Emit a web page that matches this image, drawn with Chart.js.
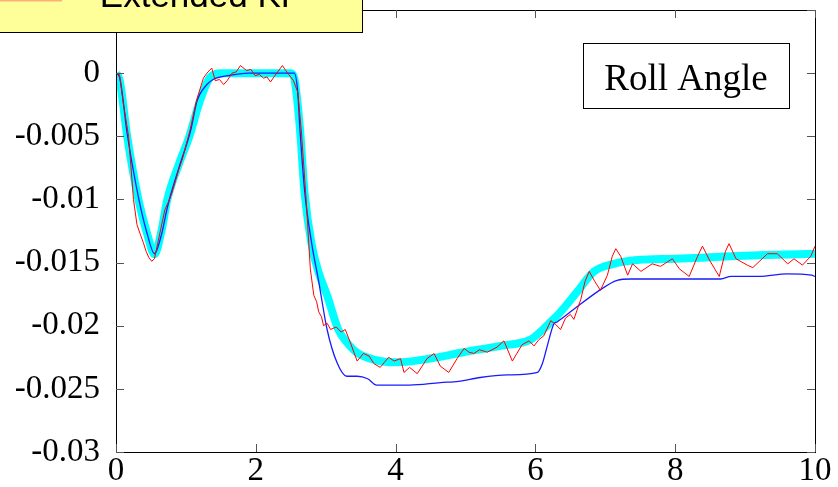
<!DOCTYPE html>
<html lang="en">
<head>
<meta charset="UTF-8" />
<title>Roll Angle</title>
<script src="https://cdn.jsdelivr.net/npm/chart.js@4.4.0/dist/chart.umd.min.js"></script>
<style>
  html, body { margin: 0; padding: 0; background: #fff; }
  #wrap { width: 838px; height: 487px; position: relative; }
</style>
</head>
<body>
<div id="wrap"><canvas id="rollChart"></canvas></div>
<script>
// x tick labels and y tick labels
var xTickLabels = ['0', '2', '4', '6', '8', '10'];
var yTickLabels = ['-0.03', '-0.025', '-0.02', '-0.015', '-0.01', '-0.005', '0'];

// true roll angle (thick cyan)
var trueT = [0, 0.05, 0.16, 0.32, 0.45, 0.55, 0.65, 0.735, 0.9, 1.05, 1.2, 1.35, 1.5, 2.5, 2.55, 2.63, 2.70, 2.80, 2.9, 3.02, 3.18, 3.3, 3.44, 3.7, 4.02, 4.5, 4.97, 5.5, 5.93, 6.07, 6.2, 6.36, 6.6, 6.84, 7.12, 7.46, 8.0, 8.65, 9.3, 10];
var trueV = [0, -0.0005, -0.005, -0.01, -0.0128, -0.01435, -0.0125, -0.01, -0.0072, -0.005, -0.0022, -0.0003, 0, 0, -0.0004, -0.0043, -0.0096, -0.0136, -0.0158, -0.0176, -0.0203, -0.0213, -0.0221, -0.0227, -0.0229, -0.0226, -0.0221, -0.0216, -0.0211, -0.0205, -0.0198, -0.0189, -0.0173, -0.0157, -0.0151, -0.0148, -0.0147, -0.01454, -0.0144, -0.0143];

// second estimate (thin blue)
var blueT = [0, 0.05, 0.16, 0.32, 0.45, 0.55, 0.65, 0.74, 0.9, 1.07, 1.16, 1.3, 1.39, 1.6, 1.9, 2.55, 2.6, 2.63, 2.70, 2.80, 2.9, 3.02, 3.16, 3.3, 3.45, 3.6, 3.73, 4.2, 4.64, 4.9, 5.21, 5.6, 6.03, 6.1, 6.17, 6.26, 6.31, 6.55, 6.89, 7.17, 7.36, 8.0, 8.65, 8.8, 9.2, 9.6, 9.95, 10];
var blueV = [0, -0.0003, -0.0048, -0.0098, -0.0128, -0.0143, -0.0128, -0.0105, -0.0075, -0.0045, -0.0022, -0.0009, -0.0005, -0.0002, 0, 0, -0.0015, -0.0043, -0.0094, -0.0135, -0.0165, -0.0203, -0.0229, -0.0240, -0.0240, -0.0242, -0.0247, -0.0247, -0.0245, -0.0244, -0.0241, -0.0239, -0.0237, -0.0230, -0.0216, -0.0199, -0.0197, -0.0187, -0.0173, -0.0164, -0.0163, -0.0163, -0.0163, -0.0161, -0.0161, -0.0159, -0.0160, -0.0161];

// Extended KF estimate (thin red, noisy)
var ekfT = [0, 0.05, 0.1, 0.18, 0.25, 0.3, 0.35, 0.39, 0.43, 0.47, 0.51, 0.55, 0.6, 0.7, 0.75, 0.8, 0.9, 0.95, 1.06, 1.15, 1.25, 1.3, 1.37, 1.42, 1.48, 1.54, 1.59, 1.66, 1.72, 1.78, 1.87, 1.93, 1.99, 2.05, 2.11, 2.16, 2.21, 2.26, 2.30, 2.38, 2.43, 2.47, 2.54, 2.6, 2.65, 2.72, 2.78, 2.83, 2.87, 2.9, 2.94, 2.97, 3.02, 3.07, 3.15, 3.22, 3.28, 3.35, 3.45, 3.54, 3.62, 3.69, 3.78, 3.84, 3.90, 3.98, 4.07, 4.12, 4.2, 4.31, 4.38, 4.45, 4.55, 4.64, 4.76, 4.88, 4.98, 5.05, 5.12, 5.2, 5.31, 5.38, 5.45, 5.55, 5.67, 5.81, 5.91, 5.98, 6.05, 6.12, 6.22, 6.29, 6.36, 6.43, 6.5, 6.55, 6.65, 6.71, 6.77, 6.85, 6.93, 7.03, 7.1, 7.15, 7.22, 7.32, 7.39, 7.51, 7.67, 7.79, 7.96, 8.06, 8.2, 8.32, 8.39, 8.49, 8.63, 8.72, 8.77, 8.87, 9.03, 9.11, 9.32, 9.46, 9.61, 9.70, 9.82, 9.94, 10];
var ekfV = [0, -0.0001, -0.0022, -0.005, -0.01, -0.012, -0.0128, -0.0134, -0.0141, -0.0146, -0.0149, -0.0147, -0.0134, -0.0108, -0.0102, -0.0095, -0.0076, -0.0068, -0.0045, -0.0022, -0.0004, 0, 0.0004, -0.0006, -0.0005, -0.0009, -0.0006, 0, 0.0001, 0.0006, 0.0002, 0.0003, -0.0002, -0.0001, -0.0004, -0.0003, -0.0007, -0.0003, 0, 0.0006, 0.0002, -0.0001, -0.0006, -0.0015, -0.0045, -0.01, -0.0155, -0.0176, -0.0181, -0.0189, -0.0193, -0.0200, -0.0198, -0.0203, -0.0201, -0.0205, -0.0203, -0.0213, -0.0228, -0.0222, -0.0224, -0.023, -0.0233, -0.0229, -0.0225, -0.0228, -0.0226, -0.0237, -0.0233, -0.0238, -0.0232, -0.0226, -0.0222, -0.0232, -0.0237, -0.0226, -0.0218, -0.0221, -0.0222, -0.0219, -0.0221, -0.0219, -0.0217, -0.0212, -0.0228, -0.0215, -0.0212, -0.0216, -0.0211, -0.0208, -0.0196, -0.0199, -0.0203, -0.0194, -0.0191, -0.0195, -0.0179, -0.0165, -0.0157, -0.0165, -0.0172, -0.016, -0.0145, -0.0139, -0.0145, -0.016, -0.0151, -0.0157, -0.0151, -0.0153, -0.0147, -0.0155, -0.0161, -0.0145, -0.0137, -0.0148, -0.0161, -0.0141, -0.0135, -0.0147, -0.0152, -0.0154, -0.0143, -0.0143, -0.0151, -0.0147, -0.0152, -0.0145, -0.0137];

function pairs(ts, vs) {
  return ts.map(function (t, i) { return { x: t, y: vs[i] }; });
}

var serif = "'Liberation Serif', 'Times New Roman', serif";

// frame, inward ticks on all four sides, legend and title boxes
var framePlugin = {
  id: 'frame',
  afterDraw: function (chart) {
    var ctx = chart.ctx;
    var a = chart.chartArea;
    var xs = chart.scales.x, ys = chart.scales.y;
    ctx.save();
    ctx.strokeStyle = '#000';
    ctx.lineWidth = 1;
    ctx.strokeRect(Math.round(a.left) + 0.5, Math.round(a.top) + 0.5, Math.round(a.right - a.left), Math.round(a.bottom - a.top));
    ctx.strokeStyle = '#555';
    ctx.beginPath();
    xs.ticks.forEach(function (t) {
      var px = Math.round(xs.getPixelForValue(t.value)) + 0.5;
      ctx.moveTo(px, a.bottom); ctx.lineTo(px, a.bottom - 8);
      ctx.moveTo(px, a.top); ctx.lineTo(px, a.top + 8);
    });
    ys.ticks.forEach(function (t) {
      var py = Math.round(ys.getPixelForValue(t.value)) + 0.5;
      ctx.moveTo(a.left, py); ctx.lineTo(a.left + 8, py);
      ctx.moveTo(a.right, py); ctx.lineTo(a.right - 8, py);
    });
    ctx.stroke();

    // legend box (cut off at the top)
    ctx.fillStyle = '#ffff99';
    ctx.fillRect(0, -10, 363, 42);
    ctx.strokeStyle = '#000';
    ctx.strokeRect(-1, -10, 363.5, 42.5);
    ctx.fillStyle = '#ffb07a';
    ctx.fillRect(0, 0, 62, 1.5);
    ctx.fillStyle = '#000';
    ctx.font = "35px 'Liberation Sans', Arial, sans-serif";
    ctx.textAlign = 'center';
    ctx.textBaseline = 'alphabetic';
    ctx.fillText('Extended KF', 201, 7);

    // title box
    ctx.fillStyle = '#fff';
    ctx.fillRect(583, 43, 206, 65);
    ctx.strokeRect(583.5, 43.5, 206, 65);
    ctx.fillStyle = '#000';
    ctx.font = '37px ' + serif;
    ctx.fillText('Roll Angle', 686, 90);
    ctx.restore();
  }
};

var chart = new Chart(document.getElementById('rollChart'), {
  type: 'line',
  data: {
    datasets: [
      {
        label: 'Extended KF',
        data: pairs(ekfT, ekfV),
        borderColor: '#ff0000',
        borderWidth: 1,
        pointRadius: 0,
        tension: 0
      },
      {
        label: 'estimate',
        data: pairs(blueT, blueV),
        borderColor: '#1a1aff',
        borderWidth: 1.3,
        pointRadius: 0,
        cubicInterpolationMode: 'monotone'
      },
      {
        label: 'true',
        data: pairs(trueT, trueV),
        borderColor: '#00ffff',
        borderWidth: 8,
        pointRadius: 0,
        cubicInterpolationMode: 'monotone'
      }
    ]
  },
  options: {
    responsive: true,
    maintainAspectRatio: false,
    animation: false,
    devicePixelRatio: 1,
    layout: { padding: { top: 10, right: 23, left: 0, bottom: 0 } },
    plugins: { legend: { display: false }, tooltip: { enabled: false } },
    scales: {
      x: {
        type: 'linear',
        min: 0,
        max: 10,
        afterFit: function (s) { s.height = 35; s.paddingLeft = 0; s.paddingRight = 0; },
        grid: { display: false, drawTicks: false },
        border: { display: false },
        ticks: {
          stepSize: 2,
          padding: 0,
          color: '#000',
          maxRotation: 0,
          font: { family: serif, size: 33 },
          callback: function (v) {
            var hit = xTickLabels.filter(function (l) { return Math.abs(parseFloat(l) - v) < 1e-9; });
            return hit.length ? hit[0] : '';
          }
        }
      },
      y: {
        type: 'linear',
        min: -0.03,
        max: 0.005,
        afterFit: function (s) { s.width = 116; s.paddingTop = 0; s.paddingBottom = 0; },
        grid: { display: false, drawTicks: false },
        border: { display: false },
        ticks: {
          stepSize: 0.005,
          padding: 16,
          color: '#000',
          font: { family: serif, size: 33 },
          callback: function (v) {
            var hit = yTickLabels.filter(function (l) { return Math.abs(parseFloat(l) - v) < 1e-9; });
            return hit.length ? hit[0] : '';
          }
        }
      }
    }
  },
  plugins: [framePlugin]
});
</script>
</body>
</html>
